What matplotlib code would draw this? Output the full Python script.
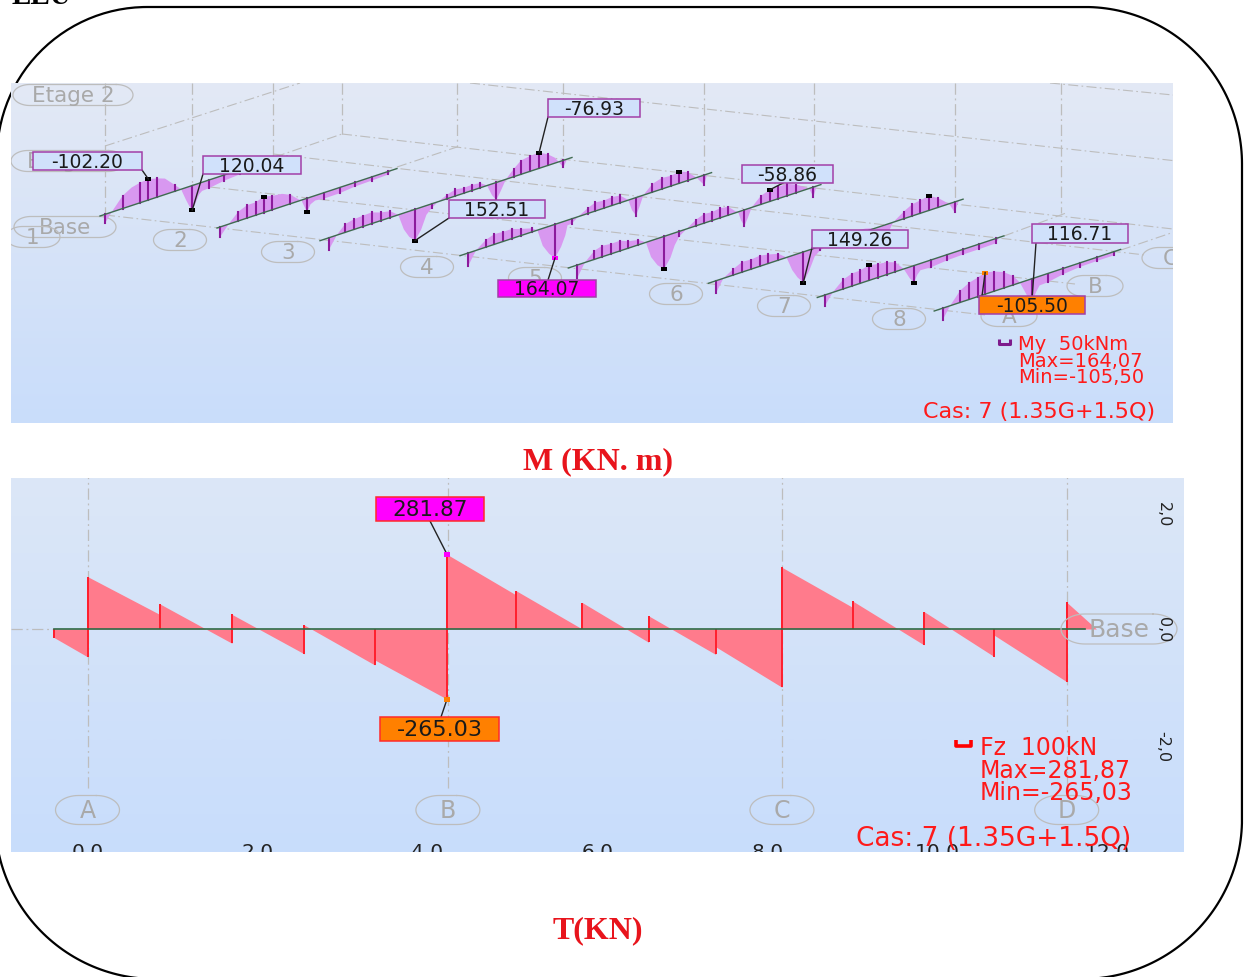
# ELU diagrams, moment and shear, redrawn from the Robot screenshots
import numpy as np
import matplotlib
matplotlib.use("Agg")
import matplotlib.pyplot as plt
from matplotlib.patches import Rectangle

W, H = 1246, 978
SANS = "DejaVu Sans"
SERIF = "Liberation Serif"
RED = "#ff1a1a"
GREY = "#bdbdbd"
GREY_TXT = "#a9a9a9"
DASH = (0, (9, 3, 1.5, 3))

# moment diagram, one frame per beam: stations s (m), M (kNm), tick stations
beam1_s = [0.23, 0.54, 1.05, 1.47, 1.86, 2.25, 2.67, 3.02, 3.49, 3.77, 4.0, 4.15, 4.29, 4.45, 4.6, 4.75, 5.07, 5.77, 6.5, 7.3, 8.1]
beam1_m = [44, 0, -62, -88, -98, -102.2, -91, -78, -30, 0, 60, 95, 120.04, 90, 55, 42, 40, 28, 22, 18, 0]
beam1_t = [0.23, 1.05, 1.86, 2.25, 2.67, 3.49, 4.29, 5.07, 5.77, 6.5, 7.3]

beam2_s = [0.155, 0.54, 0.99, 1.4, 1.8, 2.17, 2.56, 3.02, 3.41, 3.8, 3.92, 4.1, 4.19, 4.35, 4.57, 4.96, 5.7, 6.43, 7.2, 7.97, 8.1]
beam2_m = [47, 0, -45, -63, -63, -78, -68, -62, -44, -8, 0, 45, 68, 35, 24, 29, 28, 20, 18, 15, 0]
beam2_t = [0.155, 0.99, 1.4, 1.8, 2.17, 2.56, 3.41, 4.19, 4.96, 5.7, 6.43, 7.2, 7.97]

beam3_s = [0.42, 0.78, 1.16, 1.58, 1.98, 2.4, 2.82, 3.26, 3.64, 3.9, 4.15, 4.42, 4.7, 4.95, 5.2, 5.5, 5.92, 6.3, 6.68, 7.07,
           7.46, 7.77, 8.0, 8.2, 8.4, 8.65, 9.0, 9.34, 9.77, 10.19, 10.6, 10.93, 11.1, 11.32, 11.5]
beam3_m = [58, 0, -40, -50, -53, -55, -40, -31, 0, 80, 125, 152.51, 110, 45, 20, 0, -20, -32, -26, -28,
           -23, 0, 55, 86, 50, 0, -37, -67, -75, -76.93, -54, -26, 0, 34, 0]
beam3_t = [0.42, 1.16, 1.58, 1.98, 2.4, 2.82, 3.26, 3.64, 4.42, 5.2, 5.92, 6.3, 6.68, 7.07, 7.46, 8.2, 9.0, 9.34,
           9.77, 10.19, 10.6, 11.32]

beam4_s = [0.39, 0.74, 1.21, 1.6, 2.02, 2.4, 2.82, 3.33, 3.6, 3.85, 4.15, 4.42, 4.7, 4.9, 5.0, 5.19, 5.5, 5.94, 6.3, 6.7, 7.08,
           7.44, 7.75, 7.83, 8.0, 8.19, 8.35, 8.53, 8.95, 9.38, 9.8, 10.2, 10.59, 11.0, 11.36, 11.5]
beam4_m = [62, 0, -36, -50, -47, -47, -33, -18, 0, 85, 135, 164.07, 120, 70, 25, 24, 0, -26, -42, -37, -41,
           -36, -8, 0, 55, 88, 50, 0, -40, -54, -50, -57, -41, 0, 49, 0]
beam4_t = [0.39, 1.21, 1.6, 2.02, 2.4, 2.82, 3.33, 3.6, 4.42, 5.19, 5.94, 6.3, 6.7, 7.08, 7.44, 8.19, 8.95, 9.38,
           9.8, 10.2, 10.59, 11.36]

beam5_s = [0.42, 0.77, 1.21, 1.58, 1.98, 2.4, 2.79, 3.26, 3.61, 3.85, 4.15, 4.45, 4.75, 4.95, 5.16, 5.5, 5.92, 6.31, 6.67,
           7.05, 7.44, 7.75, 7.9, 8.03, 8.19, 8.35, 8.53, 8.96, 9.38, 9.77, 10.16, 10.57, 11.0, 11.2, 11.4, 11.55]
beam5_m = [63, 0, -42, -54, -49, -50, -34, -24, 0, 80, 130, 160, 115, 60, 25, 0, -29, -45, -41,
           -47, -41, -10, 0, 45, 79, 45, 0, -42, -57, -58, -58.86, -41, -13, 0, 49, 0]
beam5_t = [0.42, 1.21, 1.58, 1.98, 2.4, 2.79, 3.26, 3.61, 4.45, 5.16, 5.92, 6.31, 6.67, 7.05, 7.44, 8.19, 8.96, 9.38,
           9.77, 10.16, 10.57, 11.4]

beam6_s = [0.36, 0.7, 1.16, 1.58, 1.98, 2.4, 2.79, 3.26, 3.64, 3.9, 4.15, 4.42, 4.7, 4.95, 5.2, 5.6, 6.5, 7.29, 7.8, 8.2, 8.6,
           9.09, 9.48, 9.85, 10.27, 10.7, 11.14, 11.2, 11.46, 11.65]
beam6_m = [60, 0, -29, -50, -47, -52, -44, -31, 0, 70, 115, 149.26, 100, 40, 20, 0, -25, -14, 0, 75, 0,
           -35, -57, -63, -71, -45, -5, 0, 51, 0]
beam6_t = [0.36, 1.16, 1.58, 1.98, 2.4, 2.79, 3.26, 3.64, 4.42, 5.2, 9.09, 9.48, 9.85, 10.27, 10.7, 11.46]

beam7_s = [0.36, 0.71, 1.21, 1.61, 2.0, 2.4, 2.81, 3.23, 3.63, 4.02, 4.3, 4.5, 4.65, 4.8, 5.28, 6.03, 6.78, 7.54, 8.31, 8.44]
beam7_m = [53, 0, -46, -61, -63, -74, -66, -60, -46, 0, 55, 83, 50, 33, 36, 28, 25, 25, 23, 0]
beam7_t = [0.36, 1.21, 1.61, 2.0, 2.4, 2.81, 3.23, 3.63, 4.5, 5.28, 6.03, 6.78, 7.54, 8.31]

beam8_s = [0.39, 0.74, 1.21, 1.62, 2.02, 2.37, 2.79, 3.23, 3.68, 3.99, 4.3, 4.54, 4.75, 4.9, 5.28, 6.01, 6.78, 7.57, 8.36, 8.47]
beam8_m = [58, 0, -58, -81, -93, -105.5, -96, -78, -43, 0, 70, 116.71, 70, 45, 43, 28, 20, 18, 18, 0]
beam8_t = [0.39, 1.21, 1.62, 2.02, 2.37, 2.79, 3.23, 3.68, 4.54, 5.28, 6.01, 6.78, 7.57, 8.36]

beam_s = [beam1_s, beam2_s, beam3_s, beam4_s, beam5_s, beam6_s, beam7_s, beam8_s]
beam_m = [beam1_m, beam2_m, beam3_m, beam4_m, beam5_m, beam6_m, beam7_m, beam8_m]
beam_t = [beam1_t, beam2_t, beam3_t, beam4_t, beam5_t, beam6_t, beam7_t, beam8_t]
beam_len = [8.3, 8.37, 11.72, 11.7, 11.75, 11.85, 8.68, 8.67]

# extremes of the moment diagram: beam, station
peak_beam = [1, 1, 3, 4, 5, 6, 6, 7]
peak_s = [2.17, 4.19, 10.2, 4.45, 10.27, 2.4, 4.5, 4.54]

moment_labels = ["-102.20", "120.04", "152.51", "-76.93", "164.07", "-58.86", "149.26", "116.71", "-105.50"]
moment_label_beam = [0, 0, 2, 2, 3, 4, 5, 7, 7]
moment_label_s = [2.25, 4.29, 4.42, 10.19, 4.42, 9.38, 4.42, 4.54, 2.37]

# shear along the frame: abscissa (m), value just left and just right of each node (kN)
shear_x = [-0.39, 0.0, 0.85, 1.70, 2.55, 3.38, 4.23, 5.04, 5.82, 6.60, 7.39, 8.17, 9.0, 9.84, 10.67, 11.52, 11.87]
shear_left = [0, -105, 55, -54, -94, -136, -265.03, 129, 0, -50, -96, -220, 82, -60, -105, -199, 0]
shear_right = [-33, 198, 95, 55, 15, -117, 281.87, 145, 100, 50, -67, 233, 106, 66, -24, 101, 0]
grid_x = [0.0, 4.24, 8.17, 11.52]
grid_names = ["A", "B", "C", "D"]
x_ticks = [0, 2, 4, 6, 8, 10, 12]
x_tick_labels = ["0.0", "2.0", "4.0", "6.0", "8.0", "10.0", "12.0"]
z_ticks = ["2,0", "0,0", "-2,0"]

# picture scale of the two panels
BEAM_X0 = [100, 217, 320, 460, 568.3, 708.3, 817.3, 934.2]
BEAM_Y0 = [217, 229, 241.7, 256.7, 269, 284.3, 298.5, 312]
DX, DY, M_PX = 21.5, -7.1, 0.205
S_X0, S_DX, S_Y0, S_DY = 87.5, 85.0, 630.0, 0.2647


def px_axes(fig, x0, y0, x1, y1, zorder):
    ax = fig.add_axes([x0 / W, 1 - y1 / H, (x1 - x0) / W, (y1 - y0) / H], zorder=zorder)
    ax.set_xlim(x0, x1)
    ax.set_ylim(y1, y0)
    ax.axis("off")
    ax.patch.set_alpha(0)
    return ax


def gradient(ax, top, bottom):
    c0 = np.array(matplotlib.colors.to_rgb(top))
    c1 = np.array(matplotlib.colors.to_rgb(bottom))
    t = np.linspace(0, 1, 256)[:, None, None]
    img = c0[None, None, :] * (1 - t) + c1[None, None, :] * t
    xl, yl = ax.get_xlim(), ax.get_ylim()
    ax.imshow(img, extent=[xl[0], xl[1], yl[0], yl[1]], aspect="auto", origin="upper", zorder=0)
    ax.set_xlim(xl)
    ax.set_ylim(yl)


def draw_frame(ax):
    # rounded frame, corners a little different from one another
    xs, ys = [], []
    corners = [(147, 158, 150, 180, 270), (1085, 165, 157, 270, 360), (1082, 820, 160, 0, 90), (155, 820, 160, 90, 180)]
    for cx, cy, r, a0, a1 in corners:
        a = np.radians(np.linspace(a0, a1, 60))
        xs.extend(cx + r * np.cos(a))
        ys.extend(cy + r * np.sin(a))
    ax.plot(xs + xs[:1], ys + ys[:1], color="black", lw=1.6, zorder=1)


def bubble(ax, cx, cy, w, h, name, size):
    # elongated oval with elliptic ends
    rx = min(h * 0.8, w / 2)
    a = np.radians(np.linspace(-90, 90, 30))
    xr = cx + w / 2 - rx + rx * np.cos(a)
    yr = cy + h / 2 * np.sin(a)
    xl = cx - w / 2 + rx - rx * np.cos(a)
    yl = cy - h / 2 * np.sin(a)
    ax.plot(np.r_[xr, xl, xr[0]], np.r_[yr, yl, yr[0]], color=GREY, lw=0.9, zorder=2)
    ax.text(cx, cy, name, color=GREY_TXT, fontsize=size, family=SANS, ha="center", va="center", zorder=2, clip_on=True)


def box(ax, x0, y0, x1, y1, txt, fc, ec, size):
    ax.add_patch(Rectangle((x0, y0), x1 - x0, y1 - y0, fc=fc, ec=ec, lw=1.1, zorder=7))
    ax.text((x0 + x1) / 2, (y0 + y1) / 2 + 0.5, txt, color="#1a1a1a", fontsize=size, family=SANS,
            ha="center", va="center", zorder=8)


def node(ax, x, y, color, w=6, h=4):
    ax.add_patch(Rectangle((x - w / 2, y - h / 2), w, h, fc=color, ec="none", zorder=6))


def beam_xy(i, s, m=0.0):
    return BEAM_X0[i] + DX * np.asarray(s), BEAM_Y0[i] + DY * np.asarray(s) + M_PX * np.asarray(m)


def moment_point(i, s):
    return beam_xy(i, s, np.interp(s, beam_s[i], beam_m[i]))


def draw_moment(ax):
    gradient(ax, "#e3e9f5", "#c9ddfb")
    # construction lines of the 3d view
    lines = [((342, 135), (1173, 230)), ((273, 155), (1145, 256)), ((192, 186), (1075, 285)), ((105, 216), (985, 316)),
             ((470, 84), (1177, 162)), ((1050, 84), (1173, 96)), ((105, 147), (300, 84)), ((275, 158), (342, 135)),
             ((397, 168), (457, 148)), ((1004, 237), (1066, 214)), ((1121, 251), (1177, 232))]
    for p, q in lines:
        ax.plot([p[0], q[0]], [p[1], q[1]], color=GREY, lw=0.8, ls=DASH, zorder=1)
    for vx, vy in zip([105, 192, 273, 342, 457, 563, 704, 814, 955, 1061], [216, 186, 157, 135, 148, 158, 172, 186, 203, 214]):
        ax.plot([vx, vx], [84, vy], color=GREY, lw=0.9, ls=DASH, zorder=1)

    for cx, cy, w, name in [(73, 96, 120, "Etage 2"), (68, 162, 114, "Etage 1"), (65, 228, 102, "Base"), (33, 238, 54, "1"),
                            (180, 241, 53, "2"), (288, 253, 53, "3"), (427, 268, 53, "4"), (535, 279, 53, "5"),
                            (676, 295, 53, "6"), (784, 307, 53, "7"), (899, 320, 53, "8"), (1009, 317, 56, "A"),
                            (1095, 287, 56, "B"), (1170, 259, 56, "C")]:
        bubble(ax, cx, cy, w, 21, name, 15.5)

    for i in range(8):
        s, m = np.array(beam_s[i]), np.array(beam_m[i])
        x, y = beam_xy(i, s, m)
        bx, by = beam_xy(i, s)
        ax.fill(np.r_[x, bx[::-1]], np.r_[y, by[::-1]], color="#d898f0", lw=0, zorder=3)
        for t in beam_t[i]:
            tx, ty = moment_point(i, t)
            b0, b1 = beam_xy(i, t)
            ax.plot([b0, tx], [b1, ty], color="#8c1a9c", lw=1.5, zorder=4)
        ex, ey = beam_xy(i, [0, beam_len[i]])
        ax.plot(ex, ey, color="#3f6b50", lw=1.0, zorder=5)

    for i, s in zip(peak_beam, peak_s):
        node(ax, *moment_point(i, s), "black")

    boxes = [(33, 153, 142, 171), (203, 157, 301, 175), (449, 201, 545, 219), (548, 100, 640, 118), (498, 281, 596, 298),
             (742, 166, 833, 184), (812, 231, 908, 249), (1032, 225, 1128, 244), (979, 297, 1085, 315)]
    feet = [(142, 171), (203, 175), (449, 219), (548, 118), (548, 281), (783, 184), (812, 249), (1036, 244), (982, 297)]
    for k, txt in enumerate(moment_labels):
        px, py = moment_point(moment_label_beam[k], moment_label_s[k])
        fc = {"164.07": "#ff00ff", "-105.50": "#ff8000"}.get(txt, "#d0e1fb")
        node(ax, px, py, {"164.07": "#ff00ff", "-105.50": "#ff8000"}.get(txt, "black"))
        ax.plot([feet[k][0], px], [feet[k][1], py], color="#222222", lw=1.0, zorder=6)
        box(ax, *boxes[k], txt, fc, "#a23fa8", 13.5)

    ax.plot([999, 999, 1010, 1010], [340, 345, 345, 340], color="#7d1a8c", lw=2.2, zorder=8, solid_capstyle="butt")
    for x, y, txt in [(1018, 345, "My  50kNm"), (1018, 362, "Max=164,07"), (1018, 378, "Min=-105,50")]:
        ax.text(x, y, txt, color=RED, fontsize=14, family=SANS, va="center", zorder=8)
    ax.text(1039, 412, "Cas: 7 (1.35G+1.5Q)", color=RED, fontsize=16, family=SANS, ha="center", va="center", zorder=8)


def shear_polyline():
    x, y = [], []
    for a, l, r in zip(shear_x, shear_left, shear_right):
        x += [a, a]
        y += [l, r]
    return np.array(x), np.array(y)


def draw_shear(ax_s, ax):
    x, y = shear_polyline()
    ax_s.fill_between(x, y, 0, color="#ff7b8c", lw=0, zorder=2)
    ax_s.vlines(shear_x[:-1], shear_left[:-1], shear_right[:-1], color="#ff1f2e", lw=1.4, zorder=3)
    ax_s.vlines(shear_x[:-1], 0, shear_right[:-1], color="#ff1f2e", lw=1.4, zorder=3)
    ax_s.plot([shear_x[0], 11.73], [0, 0], color="#2f6b46", lw=1.2, zorder=4)
    ax_s.plot([-0.9, shear_x[0]], [0, 0], color=GREY, lw=0.9, ls=DASH, zorder=1)
    ax_s.vlines(grid_x, -600, 600, color=GREY, lw=0.9, ls=DASH, zorder=1)

    for g, name in zip(grid_x, grid_names):
        bubble(ax, S_X0 + S_DX * g, 811, 64, 29, name, 17)
    bubble(ax, 1119, 630, 116, 30, "Base", 18)

    for t, name in zip(x_ticks, x_tick_labels):
        ax.text(S_X0 + S_DX * t, 853, name, color="#222222", fontsize=14.5, family=SANS, ha="center", va="center",
                clip_on=True, zorder=5)
    for y_px, name in zip([515, 630, 747], z_ticks):
        ax.text(1163, y_px, name, color="#222222", fontsize=11.5, family=SANS, rotation=-90, ha="center", va="center", zorder=5)

    top_x, bot_x = S_X0 + S_DX * 4.23, S_X0 + S_DX * 4.23
    top_y, bot_y = S_Y0 - S_DY * max(shear_right), S_Y0 - S_DY * min(shear_left)
    ax.plot([430, top_x], [522, top_y], color="#222222", lw=1.0, zorder=6)
    ax.plot([441, bot_x], [718, bot_y], color="#222222", lw=1.0, zorder=6)
    node(ax, top_x, top_y, "#ff00ff", 6, 5)
    node(ax, bot_x, bot_y, "#ff8000", 6, 5)
    box(ax, 376, 498, 484, 522, "281.87", "#ff00ff", "#ff2a2a", 15.5)
    box(ax, 380, 718, 499, 742, "-265.03", "#ff8000", "#ff2a2a", 16)

    ax.plot([956, 956, 971, 971], [741, 747, 747, 741], color="#ff0000", lw=2.6, zorder=8, solid_capstyle="butt")
    for x0, y0, txt in [(980, 748, "Fz  100kN"), (980, 771, "Max=281,87"), (980, 793, "Min=-265,03")]:
        ax.text(x0, y0, txt, color=RED, fontsize=17, family=SANS, va="center", zorder=8)
    ax.text(993.5, 839, "Cas: 7 (1.35G+1.5Q)", color=RED, fontsize=19, family=SANS, ha="center", va="center", zorder=8)


fig = plt.figure(figsize=(W / 100, H / 100), dpi=100, facecolor="white")

ax_bg = px_axes(fig, 0, 0, W, H, 0)
draw_frame(ax_bg)
ax_bg.text(12, 4, "ELU", color="black", fontsize=21, family=SERIF, weight="bold", va="baseline", zorder=2)
ax_bg.text(598, 462, "M (KN. m)", color="#e8141c", fontsize=23, family=SERIF, weight="bold", ha="center", va="center")
ax_bg.text(598, 931, "T(KN)", color="#e8141c", fontsize=23, family=SERIF, weight="bold", ha="center", va="center")

ax_m = px_axes(fig, 11, 84, 1173, 424, 1)
draw_moment(ax_m)

ax_b = px_axes(fig, 11, 479, 1184, 853, 1)
gradient(ax_b, "#dce7f7", "#c8ddfc")
ax_s = fig.add_axes(ax_b.get_position(), zorder=2)
ax_s.set_xlim((11 - S_X0) / S_DX, (1184 - S_X0) / S_DX)
ax_s.set_ylim((S_Y0 - 853) / S_DY, (S_Y0 - 479) / S_DY)
ax_s.axis("off")
ax_s.patch.set_alpha(0)
ax_o = px_axes(fig, 11, 479, 1184, 853, 3)
draw_shear(ax_s, ax_o)

fig.savefig("out.png", dpi=100)
